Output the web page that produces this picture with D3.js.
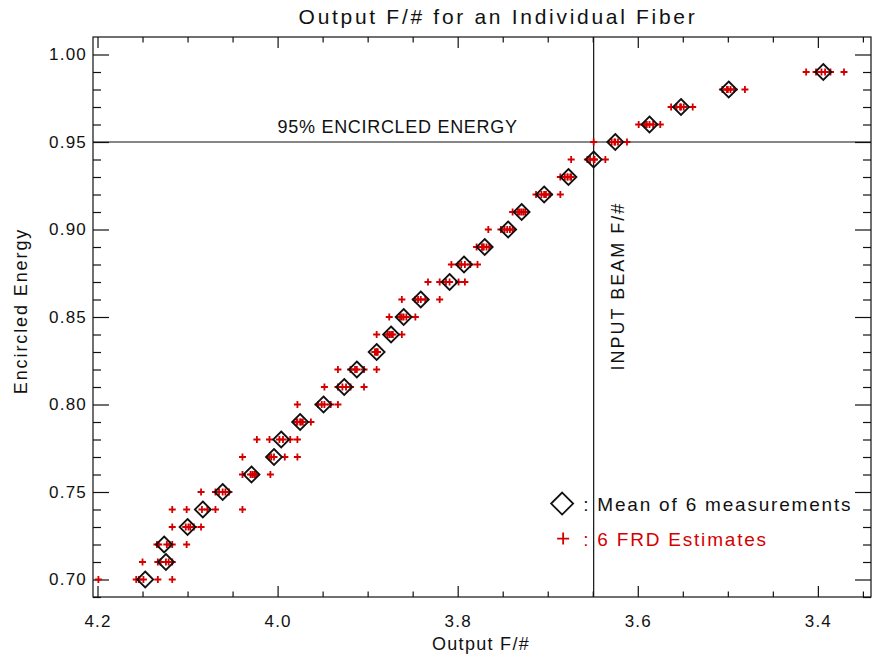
<!DOCTYPE html>
<html>
<head>
<meta charset="utf-8">
<script src="https://cdn.jsdelivr.net/npm/d3@7"></script>
<style>
  body { margin: 0; background: #fff; }
  text { font-family: "Liberation Sans", Arial, sans-serif; fill: #111; }
</style>
</head>
<body>
<script>
// encircled energy levels, one row of measurements per level
var energyLevels = [0.70, 0.71, 0.72, 0.73, 0.74, 0.75, 0.76, 0.77, 0.78, 0.79,
                    0.80, 0.81, 0.82, 0.83, 0.84, 0.85, 0.86, 0.87, 0.88, 0.89,
                    0.90, 0.91, 0.92, 0.93, 0.94, 0.95, 0.96, 0.97, 0.98, 0.99];

// mean output F/# of the 6 measurements
var meanFNumber = [4.147, 4.124, 4.126, 4.100, 4.083, 4.061, 4.029, 4.004, 3.996, 3.975,
                   3.949, 3.926, 3.912, 3.890, 3.874, 3.860, 3.841, 3.809, 3.793, 3.770,
                   3.744, 3.729, 3.704, 3.677, 3.649, 3.625, 3.587, 3.552, 3.499, 3.394];

// the 6 FRD estimates at each level
var frdEstimates = [
  [4.199, 4.157, 4.154, 4.149, 4.133, 4.117],
  [4.150, 4.133, 4.130, 4.124, 4.121, 4.117],
  [4.134, 4.132, 4.123, 4.120, 4.117, 4.101],
  [4.117, 4.102, 4.099, 4.097, 4.093, 4.085],
  [4.117, 4.101, 4.084, 4.078, 4.069, 4.039],
  [4.085, 4.069, 4.065, 4.061, 4.058, 4.054],
  [4.039, 4.030, 4.028, 4.026, 4.024, 4.008],
  [4.039, 4.009, 4.007, 4.004, 3.992, 3.978],
  [4.023, 4.009, 3.998, 3.994, 3.986, 3.978],
  [3.979, 3.978, 3.975, 3.974, 3.972, 3.963],
  [3.978, 3.955, 3.951, 3.948, 3.941, 3.933],
  [3.948, 3.933, 3.928, 3.924, 3.919, 3.904],
  [3.933, 3.919, 3.914, 3.912, 3.904, 3.890],
  [3.892, 3.891, 3.890, 3.890, 3.889, 3.889],
  [3.890, 3.878, 3.876, 3.874, 3.872, 3.862],
  [3.876, 3.864, 3.862, 3.860, 3.857, 3.847],
  [3.862, 3.847, 3.844, 3.841, 3.836, 3.820],
  [3.833, 3.820, 3.813, 3.809, 3.799, 3.792],
  [3.807, 3.799, 3.796, 3.792, 3.786, 3.778],
  [3.779, 3.773, 3.772, 3.771, 3.768, 3.765],
  [3.766, 3.752, 3.748, 3.745, 3.742, 3.739],
  [3.739, 3.733, 3.731, 3.729, 3.727, 3.725],
  [3.713, 3.707, 3.704, 3.702, 3.698, 3.686],
  [3.686, 3.681, 3.678, 3.678, 3.675, 3.674],
  [3.674, 3.656, 3.653, 3.649, 3.648, 3.636],
  [3.649, 3.629, 3.626, 3.625, 3.622, 3.612],
  [3.599, 3.592, 3.590, 3.587, 3.583, 3.575],
  [3.563, 3.557, 3.553, 3.552, 3.549, 3.539],
  [3.506, 3.501, 3.500, 3.497, 3.493, 3.481],
  [3.413, 3.402, 3.396, 3.392, 3.386, 3.371]
];

var inputBeamF = 3.649;
var encircledLimit = 0.95;

var xTicks = [4.2, 4.0, 3.8, 3.6, 3.4];
var xMinorTicks = [4.15, 4.1, 4.05, 3.95, 3.9, 3.85, 3.75, 3.7, 3.65, 3.55, 3.5, 3.45, 3.35];
var yTicks = [0.70, 0.75, 0.80, 0.85, 0.90, 0.95, 1.00];
var yMinorTicks = [0.69, 0.71, 0.72, 0.73, 0.74, 0.76, 0.77, 0.78, 0.79, 0.81, 0.82, 0.83, 0.84,
                   0.86, 0.87, 0.88, 0.89, 0.91, 0.92, 0.93, 0.94, 0.96, 0.97, 0.98, 0.99];

var margin = { top: 37, right: 1, bottom: 58, left: 93 },
    width = 872 - margin.left - margin.right,
    height = 655 - margin.top - margin.bottom;

var red = "#d40000";

var svg = d3.select("body").append("svg")
  .attr("width", 872)
  .attr("height", 655);

var g = svg.append("g")
  .attr("transform", "translate(" + margin.left + "," + margin.top + ")");

var x = d3.scaleLinear().domain([4.205, 3.341]).range([0, width]);
var y = d3.scaleLinear().domain([0.69, 1.01]).range([height, 0]);

function styleAxis(sel) {
  sel.select(".domain").remove();
  sel.selectAll("line").attr("stroke", "#111").attr("stroke-width", 1.2);
  sel.selectAll("text")
    .style("font-size", "17px")
    .style("letter-spacing", "1.2px")
    .attr("fill", "#111");
}

// bottom axis
g.append("g").attr("transform", "translate(0," + height + ")")
  .call(d3.axisBottom(x).tickValues(xTicks).tickFormat(d3.format(".1f")).tickSize(-11).tickPadding(18))
  .call(styleAxis);
g.append("g").attr("transform", "translate(0," + height + ")")
  .call(d3.axisBottom(x).tickValues(xMinorTicks).tickFormat("").tickSize(-5.5))
  .call(styleAxis);
// top axis
g.append("g")
  .call(d3.axisTop(x).tickValues(xTicks).tickFormat("").tickSize(-11))
  .call(styleAxis);
g.append("g")
  .call(d3.axisTop(x).tickValues(xMinorTicks).tickFormat("").tickSize(-5.5))
  .call(styleAxis);
// left axis
g.append("g")
  .call(d3.axisLeft(y).tickValues(yTicks).tickFormat(d3.format(".2f")).tickSize(-16).tickPadding(6))
  .call(styleAxis);
g.append("g")
  .call(d3.axisLeft(y).tickValues(yMinorTicks).tickFormat("").tickSize(-8))
  .call(styleAxis);
// right axis
g.append("g").attr("transform", "translate(" + width + ",0)")
  .call(d3.axisRight(y).tickValues(yTicks).tickFormat("").tickSize(-16))
  .call(styleAxis);
g.append("g").attr("transform", "translate(" + width + ",0)")
  .call(d3.axisRight(y).tickValues(yMinorTicks).tickFormat("").tickSize(-8))
  .call(styleAxis);

// frame
g.append("rect")
  .attr("width", width)
  .attr("height", height)
  .attr("fill", "none")
  .attr("stroke", "#111")
  .attr("stroke-width", 1.2);

// reference lines
g.append("line")
  .attr("x1", 0).attr("x2", width)
  .attr("y1", y(encircledLimit)).attr("y2", y(encircledLimit))
  .attr("stroke", "#111").attr("stroke-width", 1.2);
g.append("line")
  .attr("x1", x(inputBeamF)).attr("x2", x(inputBeamF))
  .attr("y1", 0).attr("y2", height)
  .attr("stroke", "#111").attr("stroke-width", 1.2);

g.append("text")
  .attr("x", x(4.0)).attr("y", y(0.9549))
  .style("font-size", "18px").style("letter-spacing", "0.7px")
  .text("95% ENCIRCLED ENERGY");

g.append("text")
  .attr("transform", "translate(" + (x(inputBeamF) + 30) + "," + y(0.8194) + ") rotate(-90)")
  .style("font-size", "18px").style("letter-spacing", "2px")
  .text("INPUT BEAM F/#");

// FRD estimate crosses
var points = [];
frdEstimates.forEach(function(row, i) {
  row.forEach(function(f) { points.push([f, energyLevels[i]]); });
});

g.selectAll(".est")
  .data(points)
  .enter().append("path")
  .attr("class", "est")
  .attr("d", "M-3.5,0H3.5M0,-3.5V3.5")
  .attr("transform", function(d) { return "translate(" + x(d[0]) + "," + y(d[1]) + ")"; })
  .attr("stroke", red)
  .attr("stroke-width", 1.8)
  .attr("fill", "none");

// means as diamonds
g.selectAll(".mean")
  .data(meanFNumber)
  .enter().append("path")
  .attr("class", "mean")
  .attr("d", "M0,-8L8,0L0,8L-8,0Z")
  .attr("transform", function(d, i) { return "translate(" + x(d) + "," + y(energyLevels[i]) + ")"; })
  .attr("fill", "none")
  .attr("stroke", "#111")
  .attr("stroke-width", 1.8);

// legend
var legend = g.append("g")
  .attr("transform", "translate(" + x(3.684) + "," + y(0.7434) + ")");
legend.append("path")
  .attr("d", "M0,-11L11,0L0,11L-11,0Z")
  .attr("fill", "none")
  .attr("stroke", "#111")
  .attr("stroke-width", 1.8);
legend.append("text")
  .attr("x", 21).attr("y", 7)
  .style("font-size", "19px").style("letter-spacing", "1.8px")
  .text(": Mean of 6 measurements");
legend.append("path")
  .attr("transform", "translate(1,35)")
  .attr("d", "M-6,0H6M0,-6V6")
  .attr("stroke", red)
  .attr("stroke-width", 1.8);
legend.append("text")
  .attr("x", 21).attr("y", 42)
  .style("font-size", "19px").style("letter-spacing", "1.8px")
  .style("fill", red)
  .text(": 6 FRD Estimates");

// titles
svg.append("text")
  .attr("x", 498).attr("y", 24)
  .attr("text-anchor", "middle")
  .style("font-size", "21px").style("letter-spacing", "2.7px")
  .text("Output F/# for an Individual Fiber");

svg.append("text")
  .attr("x", 481).attr("y", 650)
  .attr("text-anchor", "middle")
  .style("font-size", "18px").style("letter-spacing", "1.3px")
  .text("Output F/#");

svg.append("text")
  .attr("transform", "translate(27,311) rotate(-90)")
  .attr("text-anchor", "middle")
  .style("font-size", "18px").style("letter-spacing", "1.9px")
  .text("Encircled Energy");
</script>
</body>
</html>
